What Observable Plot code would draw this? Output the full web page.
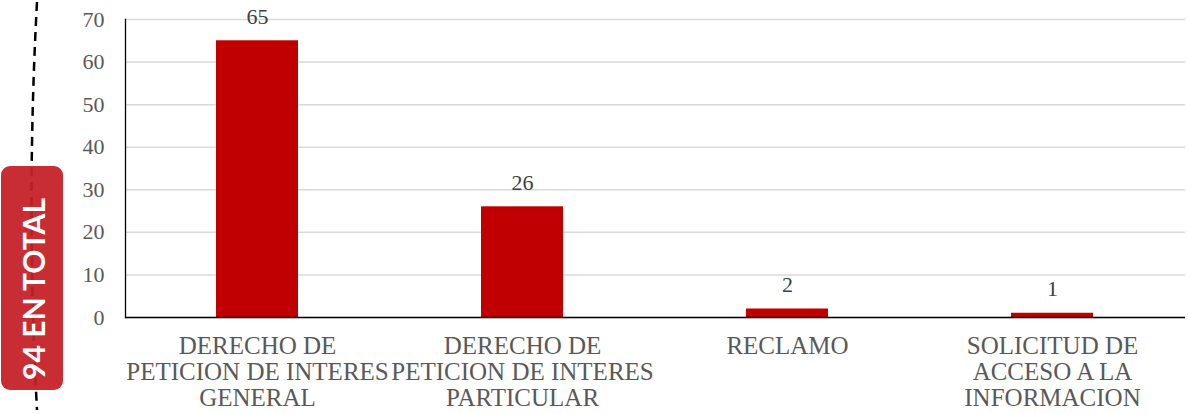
<!DOCTYPE html>
<html>
<head>
<meta charset="utf-8">
<script src="https://cdn.jsdelivr.net/npm/d3@7"></script>
<script src="https://cdn.jsdelivr.net/npm/@observablehq/plot@0.6"></script>
<style>
  body { margin: 0; background: #fff; }
  #wrap { position: relative; width: 1188px; height: 414px; overflow: hidden; }
  #wrap svg.overlay { position: absolute; left: 0; top: 0; }
</style>
</head>
<body>
<div id="wrap"></div>
<script>
const categories = [
  "DERECHO DE PETICION DE INTERES GENERAL",
  "DERECHO DE PETICION DE INTERES PARTICULAR",
  "RECLAMO",
  "SOLICITUD DE ACCESO A LA INFORMACION"
];
const categoryLabels = [
  "DERECHO DE\nPETICION DE INTERES\nGENERAL",
  "DERECHO DE\nPETICION DE INTERES\nPARTICULAR",
  "RECLAMO",
  "SOLICITUD DE\nACCESO A LA\nINFORMACION"
];
const values = [65, 26, 2, 1];
const yTicks = [0, 10, 20, 30, 40, 50, 60, 70];
const totalLabel = "94 EN TOTAL";

const data = categories.map((c, i) => ({category: c, value: values[i]}));
const labelOf = new Map(categories.map((c, i) => [c, categoryLabels[i]]));
const serif = "Liberation Serif, serif";

const chart = Plot.plot({
  width: 1188,
  height: 414,
  marginLeft: 125,
  marginRight: 3,
  marginTop: 19,
  marginBottom: 97,
  x: {domain: categories, paddingInner: 0.69, paddingOuter: 0.345, label: null},
  y: {domain: [0, 70], label: null},
  marks: [
    Plot.gridY(yTicks, {stroke: "#d9d9d9", strokeOpacity: 1, strokeWidth: 1.5}),
    Plot.axisY(yTicks, {tickSize: 0, tickPadding: 21, fontSize: 22, fill: "#595959", label: null}),
    Plot.barY(data, {x: "category", y: "value", fill: "#c00000"}),
    Plot.text(data, {x: "category", y: "value", text: d => String(d.value), lineAnchor: "bottom", dy: -17, fontSize: 22, fill: "#404040"}),
    Plot.axisX({tickSize: 0, tickPadding: 18, fontSize: 25, fill: "#595959", lineHeight: 1.04, tickFormat: d => labelOf.get(d), label: null}),
    Plot.ruleY([0], {stroke: "#000", strokeWidth: 1.6}),
    Plot.frame({anchor: "left", stroke: "#000", strokeWidth: 1.3})
  ]
});
chart.setAttribute("font-family", serif);
chart.querySelectorAll("g, text").forEach(t => {
  if (t.hasAttribute("font-family") || t.tagName === "text") t.setAttribute("font-family", serif);
});
document.getElementById("wrap").appendChild(chart);

// decorative badge and dashed arc
const ns = "http://www.w3.org/2000/svg";
const ov = document.createElementNS(ns, "svg");
ov.setAttribute("class", "overlay");
ov.setAttribute("width", 140);
ov.setAttribute("height", 414);
ov.innerHTML = `
  <path d="M37,2 Q26,205 37,410" fill="none" stroke="#000" stroke-width="2.5" stroke-dasharray="9,6"/>
  <rect x="1" y="166" width="62" height="224" rx="9" ry="9" fill="#c62027" fill-opacity="0.94"/>
  <text transform="translate(45,289) rotate(-90)" text-anchor="middle"
        font-family="Lato, Open Sans, sans-serif" font-weight="bold" font-size="30" fill="#fff">${totalLabel}</text>
`;
document.getElementById("wrap").appendChild(ov);
</script>
</body>
</html>
